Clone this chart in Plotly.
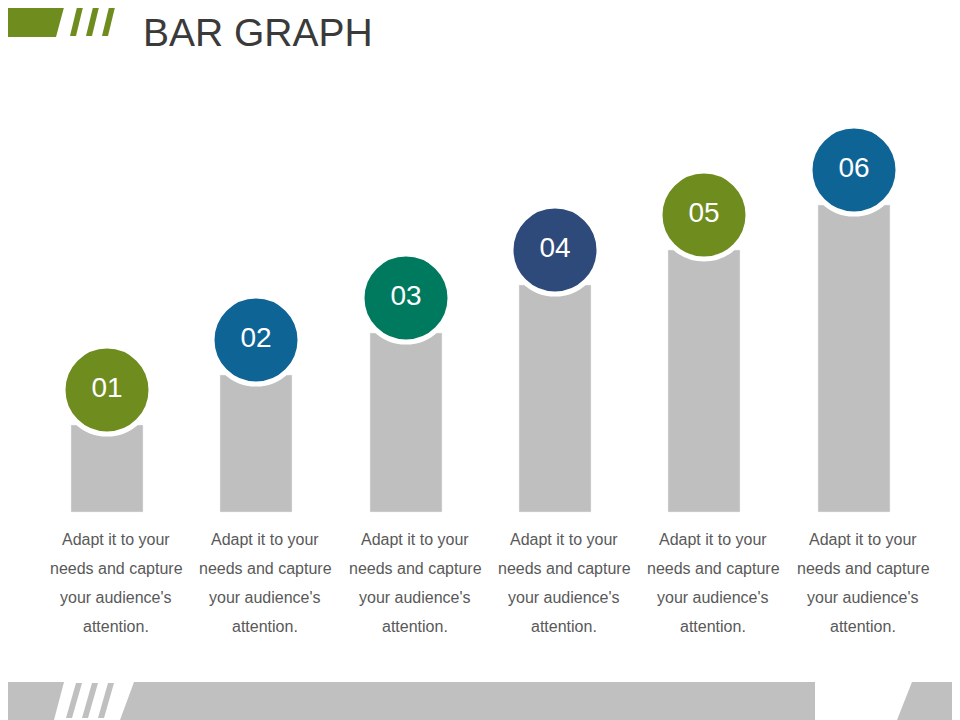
import plotly.graph_objects as go

labels = ["01", "02", "03", "04", "05", "06"]
positions = [107, 256, 406, 555, 704, 854]
values = [87, 137, 179, 227, 262, 307]
colors = ["#6f8c1f", "#0f6496", "#007a5e", "#2e4a7a", "#6f8c1f", "#0f6496"]
caption_lines = ["Adapt it to your", "needs and capture", "your audience's", "attention."]

def py(p):  # page pixel-from-top to y data
    return 512 - p

fig = go.Figure()
fig.add_trace(go.Bar(x=positions, y=values, width=72, marker_color="#bfbfbf", hoverinfo="skip"))
fig.add_trace(go.Scatter(x=positions, y=[v + 35 for v in values], mode="markers+text",
                         marker=dict(size=88, color=colors, line=dict(color="white", width=5)),
                         text=labels, textfont=dict(color="white", size=28, family="Liberation Sans"),
                         textposition="middle center", hoverinfo="skip"))
for x in positions:
    for i, line in enumerate(caption_lines):
        fig.add_annotation(x=x + 9, y=py(539 + 29 * i), text=line, showarrow=False,
                           font=dict(size=16, color="#595959", family="Liberation Sans"))
fig.add_annotation(x=141, y=py(32), text="BAR GRAPH", showarrow=False, xanchor="left",
                   font=dict(size=39, color="#3a3a3a", family="Liberation Sans"))

green = "#6f8c1f"
gray = "#c0c0c0"
shapes = []
def path(pts):
    return "M " + " L ".join(f"{x},{py(y)}" for x, y in pts) + " Z"
shapes.append(dict(type="path", path=path([(0, 0), (66, 0), (56, 37), (0, 37)]), fillcolor=green, line_width=0))
for x0 in [70, 86, 102]:
    shapes.append(dict(type="path", path=path([(x0 + 8, 3), (x0 + 14, 3), (x0 + 6, 36), (x0, 36)]), fillcolor=green, line_width=0))
shapes.append(dict(type="path", path=path([(0, 682), (64, 682), (54, 720), (0, 720)]), fillcolor=gray, line_width=0))
for x0 in [66, 82, 98]:
    shapes.append(dict(type="path", path=path([(x0 + 10, 683), (x0 + 16, 683), (x0 + 6, 718), (x0, 718)]), fillcolor=gray, line_width=0))
shapes.append(dict(type="path", path=path([(134, 682), (815, 682), (815, 720), (120, 720)]), fillcolor=gray, line_width=0))
shapes.append(dict(type="path", path=path([(912, 682), (960, 682), (960, 720), (897, 720)]), fillcolor=gray, line_width=0))
for s in shapes:
    s.update(xref="x", yref="y", layer="below")
fig.update_layout(shapes=shapes)

fig.update_layout(width=952, height=712, margin=dict(l=0, r=0, t=0, b=0),
                  paper_bgcolor="white", plot_bgcolor="white", showlegend=False,
                  xaxis=dict(range=[8, 960], visible=False, fixedrange=True),
                  yaxis=dict(range=[-208, 504], visible=False, fixedrange=True))
fig.write_html("out.html")
